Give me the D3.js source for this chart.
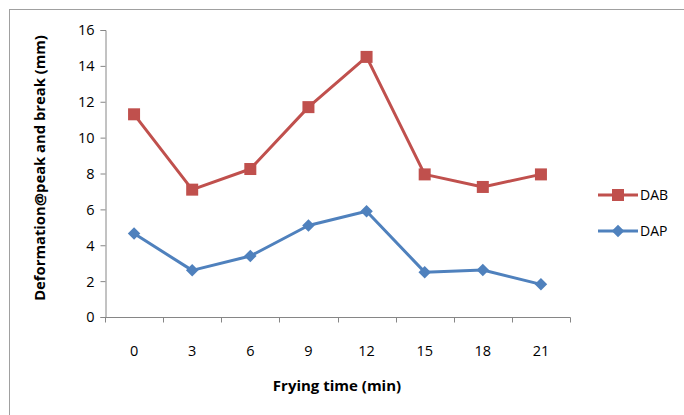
<!DOCTYPE html>
<html>
<head>
<meta charset="utf-8">
<script src="https://cdn.jsdelivr.net/npm/d3@7"></script>
<style>
  html, body { margin: 0; padding: 0; background: #fff; }
  svg { display: block; }
  text { font-family: "Open Sans", "DejaVu Sans", sans-serif; }
</style>
</head>
<body>
<svg id="chart" width="684" height="415"></svg>
<script>
// Frying time categories (min)
const times = ["0", "3", "6", "9", "12", "15", "18", "21"];
// Deformation at break (mm)
const dab = [11.3, 7.1, 8.25, 11.7, 14.5, 7.95, 7.25, 7.95];
// Deformation at peak (mm)
const dap = [4.65, 2.6, 3.4, 5.1, 5.9, 2.5, 2.62, 1.82];
const yTicks = [0, 2, 4, 6, 8, 10, 12, 14, 16];

const svg = d3.select("#chart");

// outer frame
svg.append("rect")
  .attr("x", 9.5).attr("y", 9.5)
  .attr("width", 690).attr("height", 420)
  .attr("fill", "none").attr("stroke", "#a0a0a0").attr("stroke-width", 1);

const plotL = 105, plotR = 570, plotT = 30, plotB = 317;

const x = d3.scaleBand().domain(times).range([plotL, plotR]);
const y = d3.scaleLinear().domain([0, 16]).range([plotB, plotT]);

// y axis
const yAxis = svg.append("g")
  .attr("transform", `translate(${plotL + 0.5},0)`)
  .call(d3.axisLeft(y).tickValues(yTicks).tickSize(5).tickPadding(6));
yAxis.select(".domain").attr("stroke", "#868686");
yAxis.selectAll(".tick line").attr("stroke", "#868686");
yAxis.selectAll(".tick text").attr("font-size", 14.5).attr("fill", "#000")
  .attr("dy", "0.34em");

// x axis: ticks at band boundaries, labels at band centres
const xg = svg.append("g").attr("transform", `translate(0,${plotB + 0.5})`);
xg.append("line").attr("x1", plotL).attr("x2", plotR + 0.5)
  .attr("stroke", "#868686");
const bounds = times.map(t => x(t)).concat([plotR]);
xg.selectAll("line.tk").data(bounds).join("line")
  .attr("class", "tk")
  .attr("x1", d => Math.round(d) + 0.5).attr("x2", d => Math.round(d) + 0.5)
  .attr("y1", 0).attr("y2", 5).attr("stroke", "#868686");
xg.selectAll("text").data(times).join("text")
  .attr("x", d => x(d) + x.bandwidth() / 2)
  .attr("y", 38)
  .attr("text-anchor", "middle")
  .attr("font-size", 14.5)
  .text(d => d);

// axis titles
svg.append("text")
  .attr("x", 337).attr("y", 391)
  .attr("text-anchor", "middle")
  .attr("font-size", 15).attr("font-weight", "bold")
  .text("Frying time (min)");

svg.append("text")
  .attr("transform", "translate(45,168) rotate(-90)")
  .attr("text-anchor", "middle")
  .attr("font-size", 14.8).attr("font-weight", "bold")
  .text("Deformation@peak and break (mm)");

const cx = (d, i) => x(times[i]) + x.bandwidth() / 2;
const line = d3.line().x((d, i) => cx(d, i)).y(d => y(d));

const red = "#c0504d", blue = "#4f81bd";

// DAB series
svg.append("path").datum(dab)
  .attr("d", line).attr("fill", "none")
  .attr("stroke", red).attr("stroke-width", 3).attr("stroke-linejoin", "round");
svg.selectAll("rect.dab").data(dab).join("rect")
  .attr("class", "dab")
  .attr("x", (d, i) => cx(d, i) - 6).attr("y", d => y(d) - 6)
  .attr("width", 12).attr("height", 12)
  .attr("fill", red);

// DAP series
svg.append("path").datum(dap)
  .attr("d", line).attr("fill", "none")
  .attr("stroke", blue).attr("stroke-width", 3).attr("stroke-linejoin", "round");
const diamond = d3.symbol().type(d3.symbolDiamond2).size(100);
svg.selectAll("path.dap").data(dap).join("path")
  .attr("class", "dap")
  .attr("transform", (d, i) => `translate(${cx(d, i)},${y(d)})`)
  .attr("d", diamond)
  .attr("fill", blue);

// legend
const legend = [
  { name: "DAB", color: red, shape: "square", y: 195 },
  { name: "DAP", color: blue, shape: "diamond", y: 231 }
];
legend.forEach(l => {
  svg.append("line").attr("x1", 598).attr("x2", 638)
    .attr("y1", l.y).attr("y2", l.y)
    .attr("stroke", l.color).attr("stroke-width", 3);
  if (l.shape === "square") {
    svg.append("rect").attr("x", 612).attr("y", l.y - 6)
      .attr("width", 12).attr("height", 12).attr("fill", l.color);
  } else {
    svg.append("path").attr("transform", `translate(618,${l.y})`)
      .attr("d", diamond).attr("fill", l.color);
  }
  svg.append("text").attr("x", 640).attr("y", l.y + 5)
    .attr("font-size", 14)
    .text(l.name);
});
</script>
</body>
</html>
